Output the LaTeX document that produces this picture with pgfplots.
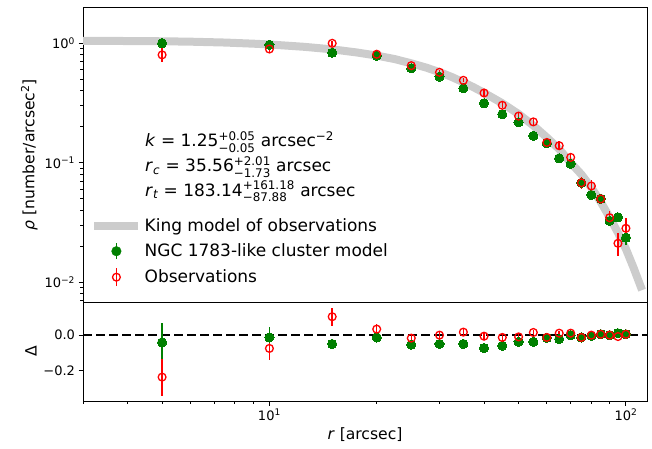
\documentclass[border=0pt]{standalone}
\usepackage{amsmath}
\usepackage{pgfplots}
\pgfplotsset{compat=1.18}
\usepackage{fontspec}
\setmainfont{DejaVu Sans}
\definecolor{mgreen}{RGB}{0,128,0}
\definecolor{mred}{RGB}{255,0,0}
\definecolor{band}{RGB}{204,204,204}
\newcommand{\tickfont}{\fontsize{13}{15}\selectfont}
\newcommand{\bigfont}{\fontsize{15.6}{18}\selectfont}
\newcommand{\annfont}{\fontsize{17}{20}\selectfont}
\begin{document}
\begin{tikzpicture}[x=1pt,y=1pt]
\path[use as bounding box] (0,0) rectangle (652,448);
% ---------------- top panel ----------------
\begin{axis}[scale only axis, anchor=south west,
  at={(83pt,146pt)}, width=564pt, height=295pt,
  axis line style={line width=1pt},
  tick align=outside,
  major tick length=4.5pt, minor tick length=2.6pt,
  major tick style={line width=1pt, black},
  minor tick style={line width=0.8pt, black},
  tick label style={font=\tickfont},
  label style={font=\bigfont},
  xmode=log, ymode=log, xmin=3, xmax=114.6, ymin=0.00684, ymax=2.013,
  xtick=\empty, xmajorticks=false, xminorticks=false,
  ytick={0.01,0.1,1},
  yticklabels={10\textsuperscript{−2},10\textsuperscript{−1},10\textsuperscript{0}},
  minor ytick={0.007,0.008,0.009,0.02,0.03,0.04,0.05,0.06,0.07,0.08,0.09,0.2,0.3,0.4,0.5,0.6,0.7,0.8,0.9},
  ytick pos=left,
  ylabel={\textit{ρ} [number/arcsec\textsuperscript{2}]},
  legend style={at={(0.007,0.297)}, anchor=north west, draw=none, fill=none,
    font=\annfont, row sep=7pt},
  legend cell align=left,
]
\addplot[color=band, line width=8pt, forget plot]
coordinates {
(3,1.05) (4,1.045) (5,1.04) (6,1.032) (7.5,1.015) (9,0.993) (10,0.978) (12.5,0.935) (15,0.89)
(17.5,0.84) (20,0.79) (22.5,0.737) (25,0.68) (27.5,0.627) (30,0.574) (32.5,0.522)
(35,0.472) (37.5,0.427) (40,0.385) (45,0.315) (50,0.256) (55,0.205) (60,0.163)
(65,0.13) (70,0.10) (75,0.08) (80,0.062) (85,0.047) (90,0.035) (95,0.026)
(100,0.019) (105,0.0133) (111,0.0086)
};

\addplot[only marks, mark=*, mark size=4.6pt, color=mgreen, forget plot,
  mark options={fill=mgreen, draw=mgreen, line width=0pt},
  error bars/.cd, y dir=both, y explicit, error mark=none,
  error bar style={line width=1.5pt, color=mgreen}]
table[x index=0, y index=1, y error index=2] {
5 1.00 0.11
10 0.97 0.06
15 0.834 0.025
20 0.787 0.02
25 0.618 0.015
30 0.526 0.012
35 0.42 0.012
40 0.315 0.01
45 0.255 0.01
50 0.218 0.009
55 0.168 0.008
60 0.146 0.007
65 0.109 0.006
70 0.098 0.006
75 0.068 0.005
80 0.0538 0.004
85 0.050 0.004
90 0.0326 0.003
95 0.035 0.003
100 0.0236 0.003
};

\addplot[only marks, mark=o, mark size=3.9pt, color=mred, forget plot,
  mark options={fill=none, draw=mred, line width=1.3pt},
  error bars/.cd, y dir=both, y explicit, error mark=none,
  error bar style={line width=1.5pt, color=mred}]
table[x index=0, y index=1, y error index=2] {
5 0.80 0.105
10 0.896 0.063
15 1.0 0.05
20 0.81 0.03
25 0.65 0.025
30 0.572 0.022
35 0.49 0.02
40 0.384 0.02
45 0.303 0.018
50 0.246 0.016
55 0.22 0.015
60 0.148 0.012
65 0.139 0.012
70 0.111 0.01
75 0.068 0.008
80 0.064 0.008
85 0.0498 0.005
90 0.0347 0.005
95 0.0212 0.0046
100 0.0283 0.0065
};

\addlegendimage{legend image code/.code={
    \path[draw=none, fill=none] (0pt,-9pt) rectangle (48pt,9pt);
    \draw[color=band, line width=8.5pt] (0pt,0pt) -- (44pt,0pt);}}
\addlegendentry{King model of observations}
\addlegendimage{legend image code/.code={
    \path[draw=none, fill=none] (0pt,-9pt) rectangle (48pt,9pt);
    \draw[mgreen, line width=1.5pt] (22pt,-8pt) -- (22pt,8pt);
    \fill[mgreen] (22pt,0pt) circle (4.8pt);}}
\addlegendentry{NGC 1783-like cluster model}
\addlegendimage{legend image code/.code={
    \path[draw=none, fill=none] (0pt,-9pt) rectangle (48pt,9pt);
    \draw[mred, line width=1.5pt] (22pt,-9pt) -- (22pt,9pt);
    \draw[mred, line width=1.3pt] (22pt,0pt) circle (3.9pt);}}
\addlegendentry{Observations}

\node[anchor=base west, font=\annfont, inner sep=0pt] at (rel axis cs:0.110,0.5264)
  {\textit{k} = 1.25$^{\text{+0.05}}_{\text{−0.05}}$ arcsec$^{\text{−2}}$};
\node[anchor=base west, font=\annfont, inner sep=0pt] at (rel axis cs:0.110,0.4417)
  {\textit{r}$_{\text{\itshape c}}$ = 35.56$^{\text{+2.01}}_{\text{−1.73}}$ arcsec};
\node[anchor=base west, font=\annfont, inner sep=0pt] at (rel axis cs:0.110,0.3593)
  {\textit{r}$_{\text{\itshape t}}$ = 183.14$^{\text{+161.18}}_{\text{−87.88}}$ arcsec};
\end{axis}
% ---------------- bottom panel ----------------
\begin{axis}[scale only axis, anchor=south west,
  at={(83pt,47pt)}, width=564pt, height=99pt,
  axis line style={line width=1pt},
  tick align=outside,
  major tick length=4.5pt, minor tick length=2.6pt,
  major tick style={line width=1pt, black},
  minor tick style={line width=0.8pt, black},
  tick label style={font=\tickfont},
  label style={font=\bigfont},
  xmode=log, xmin=3, xmax=114.6,
  ymin=-0.372, ymax=0.187,
  xtick={10,100}, xticklabels={10\textsuperscript{1},10\textsuperscript{2}},
  minor xtick={3,4,5,6,7,8,9,20,30,40,50,60,70,80,90},
  ytick={-0.2,0}, yticklabels={−0.2,0.0},
  xtick pos=bottom, ytick pos=left,
  xlabel={\textit{r} [arcsec]}, ylabel={Δ},
]
\addplot[black, line width=2pt, dash pattern=on 9pt off 4pt] coordinates {(3,0) (114.6,0)};
\addplot[only marks, mark=*, mark size=4.6pt, color=mgreen,
  mark options={fill=mgreen, draw=mgreen, line width=0pt},
  error bars/.cd, y dir=both, y explicit, error mark=none,
  error bar style={line width=1.5pt, color=mgreen}]
table[x index=0, y index=1, y error index=2] {
5 -0.041 0.11
10 -0.013 0.06
15 -0.05 0.025
20 -0.013 0.02
25 -0.054 0.015
30 -0.05 0.012
35 -0.05 0.012
40 -0.073 0.01
45 -0.06 0.01
50 -0.038 0.009
55 -0.038 0.008
60 -0.015 0.007
65 -0.022 0.006
70 0.0 0.006
75 -0.013 0.005
80 -0.004 0.004
85 0.005 0.004
90 0.0 0.003
95 0.011 0.003
100 0.005 0.003
};
\addplot[only marks, mark=o, mark size=3.9pt, color=mred,
  mark options={fill=none, draw=mred, line width=1.3pt},
  error bars/.cd, y dir=both, y explicit, error mark=none,
  error bar style={line width=1.5pt, color=mred}]
table[x index=0, y index=1, y error index=2] {
5 -0.237 0.105
10 -0.075 0.063
15 0.104 0.05
20 0.034 0.03
25 -0.017 0.025
30 0.0 0.022
35 0.017 0.02
40 -0.006 0.02
45 -0.013 0.018
50 -0.01 0.016
55 0.015 0.015
60 -0.013 0.012
65 0.011 0.012
70 0.011 0.01
75 -0.013 0.008
80 0.0 0.008
85 0.005 0.005
90 0.0 0.005
95 -0.008 0.0046
100 0.005 0.0065
};
\end{axis}
\end{tikzpicture}
\end{document}
